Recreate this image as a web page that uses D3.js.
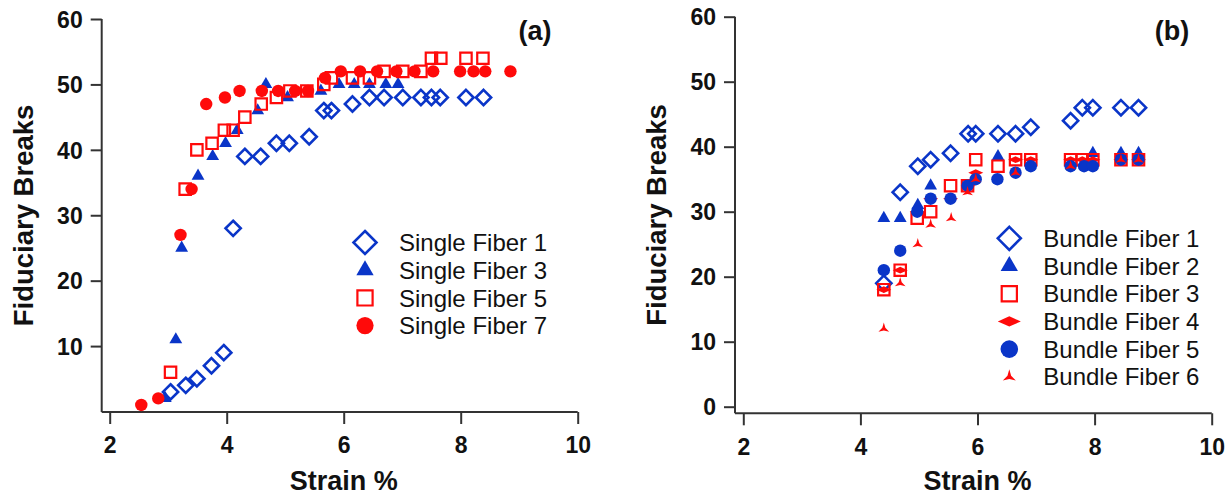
<!DOCTYPE html>
<html>
<head>
<meta charset="utf-8">
<script src="https://cdn.jsdelivr.net/npm/d3@7"></script>
<style>
  html,body{margin:0;padding:0;background:#fff;}
  svg{display:block;font-family:Arial,"Liberation Sans",sans-serif;}
</style>
</head>
<body>
<svg id="chart" width="1230" height="495"></svg>
<script>
// ---- data: [strain %, fiduciary breaks] ----
const sf1 = [[3.04,3],[3.30,4],[3.49,5],[3.74,7],[3.95,9],[4.11,28],[4.31,39],[4.58,39],[4.85,41],[5.07,41],[5.41,42],[5.66,46],[5.79,46],[6.15,47],[6.44,48],[6.69,48],[7.01,48],[7.32,48],[7.50,48],[7.65,48],[8.09,48],[8.39,48]];
const sf3 = [[2.95,2],[3.13,11],[3.23,25],[3.51,36],[3.76,39],[3.98,41],[4.18,43],[4.53,46],[4.67,50],[5.04,48],[5.61,49],[5.92,50],[6.18,50],[6.44,50],[6.72,50],[6.93,50]];
const sf5 = [[3.04,6],[3.29,34],[3.49,40],[3.75,41],[3.96,43],[4.11,43],[4.31,45],[4.59,47],[4.85,48],[5.08,49],[5.37,49],[5.66,50],[5.79,51],[6.15,51],[6.44,51],[6.69,52],[7.01,52],[7.32,52],[7.50,54],[7.66,54],[8.09,54],[8.38,54]];
const sf7 = [[2.54,1],[2.83,2],[3.21,27],[3.40,34],[3.65,47],[3.97,48],[4.22,49],[4.60,49],[4.88,49],[5.17,49],[5.39,49],[5.68,51],[5.95,52],[6.28,52],[6.57,52],[6.90,52],[7.21,52],[7.53,52],[7.99,52],[8.22,52],[8.42,52],[8.85,52]];

const bf1 = [[4.40,19],[4.68,33],[4.98,37],[5.20,38],[5.54,39],[5.84,42],[5.97,42],[6.35,42],[6.65,42],[6.91,43],[7.59,44],[7.79,46],[7.97,46],[8.45,46],[8.75,46]];
const bf2 = [[4.40,29],[4.68,29],[4.98,31],[5.20,34],[6.35,38.5],[7.97,39],[8.45,39],[8.75,39]];
const bf3 = [[4.40,18],[4.68,21],[4.97,29],[5.20,30],[5.54,34],[5.83,34],[5.97,38],[6.35,37],[6.65,38],[6.91,38],[7.59,38],[7.79,38],[7.97,38],[8.45,38],[8.75,38]];
const bf4 = [[4.40,18],[4.68,21],[4.97,30],[5.20,32],[5.54,32],[5.84,34],[5.97,36],[6.65,38],[6.91,38],[7.59,38],[7.79,38],[7.97,38],[8.45,38],[8.75,38]];
const bf5 = [[4.40,21],[4.68,24],[4.97,30],[5.20,32],[5.54,32],[5.83,34],[5.97,35],[6.34,35],[6.65,36],[6.91,37],[7.59,37],[7.82,37],[7.97,37],[8.45,38],[8.75,38]];
const bf6 = [[4.40,12],[4.68,19],[4.98,25],[5.20,28],[5.55,29],[5.83,33],[5.97,35],[6.65,36],[7.59,37],[8.45,38],[8.75,38]];

const xTicks = [2,4,6,8,10];
const yTicksA = [10,20,30,40,50,60];
const yTicksB = [0,10,20,30,40,50,60];
const namesA = ['Single Fiber 1','Single Fiber 3','Single Fiber 5','Single Fiber 7'];
const namesB = ['Bundle Fiber 1','Bundle Fiber 2','Bundle Fiber 3','Bundle Fiber 4','Bundle Fiber 5','Bundle Fiber 6'];

const BLUE = '#0a35c8', RED = '#ff0a0a';
const FONT = 'Arial, "Liberation Sans", sans-serif';

// ---- marker shapes (s = nominal size in px) ----
const shape = {
  diamond: s => `M0,${-s}L${s},0L0,${s}L${-s},0Z`,
  triangle: s => `M0,${-s}L${s*0.866},${s*0.5}L${-s*0.866},${s*0.5}Z`,
  square: s => `M${-s},${-s}H${s}V${s}H${-s}Z`,
  circle: s => `M${s},0A${s},${s} 0 1,1 ${-s},0A${s},${s} 0 1,1 ${s},0Z`,
  wide: s => `M${-s},0L0,${-s*0.45}L${s},0L0,${s*0.45}Z`,
  star: s => { const p=d3.path(); for(let i=0;i<3;i++){ const a=(-90+i*120)*Math.PI/180, b=(-30+i*120)*Math.PI/180;
      const ox=Math.cos(a)*s, oy=Math.sin(a)*s, ix=Math.cos(b)*s*0.28, iy=Math.sin(b)*s*0.28;
      i? p.lineTo(ox,oy) : p.moveTo(ox,oy); p.lineTo(ix,iy); } p.closePath(); return p.toString(); }
};

const seriesA = [
  {data:sf1, sh:'diamond', fill:'none', stroke:BLUE, s:7.6, ls:11.5, sw:2.6},
  {data:sf3, sh:'triangle', fill:BLUE, stroke:'none', s:7.4, ls:10},
  {data:sf5, sh:'square', fill:'none', stroke:RED, s:5.7, ls:7.6, sw:2.2},
  {data:sf7, sh:'circle', fill:RED, stroke:'none', s:6.2, ls:8.6}
];
const seriesB = [
  {data:bf1, sh:'diamond', fill:'none', stroke:BLUE, s:7.6, ls:11.5, sw:2.6},
  {data:bf2, sh:'triangle', fill:BLUE, stroke:'none', s:7.4, ls:10},
  {data:bf3, sh:'square', fill:'none', stroke:RED, s:5.7, ls:7.6, sw:2.2},
  {data:bf4, sh:'wide', fill:RED, stroke:'none', s:7.5, ls:11.5},
  {data:bf5, sh:'circle', fill:BLUE, stroke:'none', s:6.2, ls:8.8},
  {data:bf6, sh:'star', fill:RED, stroke:'none', s:6.2, ls:7.5}
];

const svg = d3.select('#chart');

function panel(o){
  const x = d3.scaleLinear().domain([2,10]).range([o.x0, o.x1]);
  const y = d3.scaleLinear().domain([0,60]).range([o.y0, o.y60]);
  const g = svg.append('g');

  // axes
  const ax = g.append('g').attr('transform',`translate(0,${o.axisY})`)
    .call(d3.axisBottom(x).tickValues(xTicks).tickSize(12).tickPadding(13).tickFormat(d3.format('d')));
  ax.select('.domain').attr('d',`M${o.axisX},0H${o.x1}`);
  const ay = g.append('g').attr('transform',`translate(${o.axisX},0)`)
    .call(d3.axisLeft(y).tickValues(o.yTicks).tickSize(11).tickPadding(8).tickFormat(d3.format('d')));
  ay.select('.domain').attr('d',`M0,${o.y60}V${o.axisY}`);
  g.selectAll('.domain').attr('stroke','#333').attr('stroke-width',2);
  g.selectAll('.tick line').attr('stroke','#333').attr('stroke-width',2);
  [ax,ay].forEach(a=>a.attr('font-family',FONT).attr('font-size',23).attr('font-weight','bold'));
  g.selectAll('.tick text').attr('fill','#111');
  ay.selectAll('.tick text').attr('dy','0.36em');

  // titles
  g.append('text').attr('x',(o.x0+o.x1)/2).attr('y',490).attr('text-anchor','middle')
    .attr('font-size',27).attr('font-weight','bold').attr('fill','#111').text('Strain %');
  g.append('text').attr('transform',`translate(${o.ylabX},${(o.y60+o.axisY)/2}) rotate(-90)`)
    .attr('text-anchor','middle').attr('dy','0.36em')
    .attr('font-size',27.5).attr('font-weight','bold').attr('fill','#111').text('Fiduciary Breaks');
  g.append('text').attr('x',o.tagX).attr('y',40).attr('text-anchor','middle')
    .attr('font-size',27).attr('font-weight','bold').attr('fill','#111').text(o.tag);

  // points
  o.series.forEach(s=>{
    g.append('g').selectAll('path').data(s.data).join('path')
      .attr('transform',d=>`translate(${x(d[0])},${y(d[1])})`)
      .attr('d',shape[s.sh](s.s))
      .attr('fill',s.fill).attr('stroke',s.stroke).attr('stroke-width',s.sw||0);
  });

  // legend
  const lg = g.append('g');
  o.series.forEach((s,i)=>{
    const ly = o.legY + i*27.7;
    lg.append('path').attr('transform',`translate(${o.legX},${ly})`).attr('d',shape[s.sh](s.ls))
      .attr('fill',s.fill).attr('stroke',s.stroke).attr('stroke-width',s.sw||0);
    lg.append('text').attr('x',o.legX+34).attr('y',ly).attr('dy','0.36em')
      .attr('font-size',24).attr('fill','#111').text(o.names[i]);
  });
}

panel({x0:109.7, x1:577.7, y0:411.5, y60:19, axisX:101.7, axisY:412, yTicks:yTicksA,
  ylabX:23, tag:'(a)', tagX:535, series:seriesA, names:namesA, legX:365, legY:242.5});
panel({x0:743.3, x1:1211.7, y0:406.7, y60:16.7, axisX:735, axisY:413.3, yTicks:yTicksB,
  ylabX:656, tag:'(b)', tagX:1172, series:seriesB, names:namesB, legX:1009.3, legY:238.3});
</script>
</body>
</html>
